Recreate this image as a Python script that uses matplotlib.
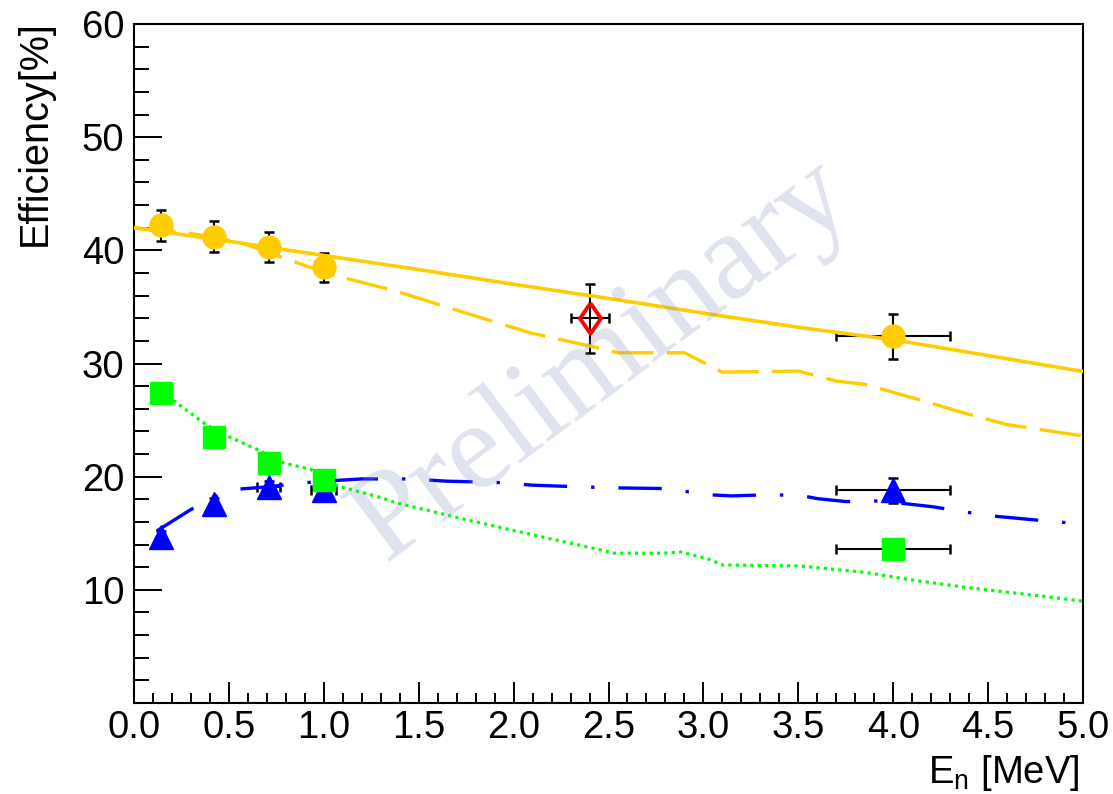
import matplotlib
matplotlib.use("Agg")
import matplotlib.pyplot as plt
from matplotlib.ticker import MultipleLocator, FixedLocator

plt.rcParams['font.family'] = ['Liberation Sans', 'DejaVu Sans']
plt.rcParams['mathtext.fontset'] = 'custom'
plt.rcParams['mathtext.rm'] = 'Liberation Sans'
plt.rcParams['mathtext.it'] = 'Liberation Sans'

# ---------------- data ----------------
# measured points (E in MeV, efficiency in %)
circ_x = [0.14, 0.42, 0.71, 1.0, 4.0]
circ_y = [42.2, 41.2, 40.3, 38.5, 32.4]
circ_yerr = [1.4, 1.35, 1.3, 1.3, 2.0]
circ_xerr = [0.0, 0.0, 0.0, 0.0, 0.3]

sq_x = [0.14, 0.42, 0.71, 1.0, 4.0]
sq_y = [27.4, 23.5, 21.2, 19.7, 13.6]
sq_yerr = [0.5, 0.5, 0.5, 0.5, 0.6]
sq_xerr = [0.0, 0.0, 0.0, 0.0, 0.3]

tri_x = [0.14, 0.42, 0.71, 1.0, 4.0]
tri_y = [14.7, 17.6, 19.1, 18.8, 18.8]
tri_yerr = [0.5, 0.5, 0.5, 0.5, 1.1]
tri_xerr = [0.0, 0.0, 0.06, 0.066, 0.3]

dia_x = [2.4]
dia_y = [34.0]
dia_yerr = [3.05]
dia_xerr = [0.1]

# simulated curves
sol_x = [0.0, 0.5, 1.0, 1.5, 2.0, 2.5, 3.0, 3.5, 4.0, 4.5, 5.0]
sol_y = [42.0, 40.8, 39.55, 38.3, 37.0, 35.75, 34.45, 33.2, 32.1, 30.7, 29.3]

dash_x = [0.0, 0.3, 0.56, 0.86, 1.03, 1.38, 1.74, 2.09, 2.44, 2.55, 2.9,
          3.1, 3.5, 3.7, 3.85, 4.1, 4.4, 4.6, 5.0]
dash_y = [42.0, 41.5, 40.7, 38.9, 37.9, 36.4, 34.5, 32.7, 31.4, 30.95, 30.95,
          29.24, 29.33, 28.45, 28.16, 26.98, 25.5, 24.6, 23.6]

dd_x = [0.12, 0.30, 0.5, 0.72, 0.85, 1.0, 1.2, 1.45, 1.65, 1.9, 2.1, 2.35,
        2.57, 2.8, 3.03, 3.15, 3.3, 3.5, 3.6, 3.75, 3.95, 4.07, 4.2, 4.4,
        4.52, 4.65, 4.86, 5.0]
dd_y = [15.2, 17.1, 18.83, 19.12, 19.39, 19.6, 19.8, 19.8, 19.6, 19.5, 19.25,
        19.1, 19.0, 18.95, 18.4, 18.3, 18.38, 18.38, 18.06, 17.8, 17.86, 17.6,
        17.36, 16.83, 16.53, 16.33, 16.0, 15.85]

dot_x = [0.14, 0.21, 0.38, 0.49, 0.65, 0.79, 0.93, 1.07, 1.3, 1.38, 1.74,
         2.09, 2.44, 2.53, 2.79, 2.88, 3.03, 3.1, 3.5, 3.86, 4.07, 4.39, 4.74, 5.0]
dot_y = [27.4, 26.7, 24.6, 23.6, 22.4, 21.2, 20.65, 19.2, 18.15, 17.7, 16.24,
         14.9, 13.6, 13.24, 13.24, 13.35, 12.7, 12.2, 12.12, 11.53, 10.94, 10.2, 9.53, 9.0]

xticks = [0.0, 0.5, 1.0, 1.5, 2.0, 2.5, 3.0, 3.5, 4.0, 4.5, 5.0]
yticks = [10, 20, 30, 40, 50, 60]

YEL = '#FFCC00'
GRN = '#00FF00'
BLU = '#0000FF'
RED = '#FF0000'

# ---------------- figure ----------------
W, H = 1113, 794
fig = plt.figure(figsize=(W / 100, H / 100), dpi=100)
ax = fig.add_axes([134 / W, 91 / H, (1083 - 134) / W, (703 - 24) / H])
ax.set_xlim(0, 5)
ax.set_ylim(0, 60)

# error bars
eb = dict(fmt='none', ecolor='black', elinewidth=1.5, capsize=3.4, capthick=1.8, zorder=2)
ax.errorbar(circ_x, circ_y, yerr=circ_yerr, xerr=circ_xerr, **eb)
ax.errorbar(sq_x, sq_y, yerr=sq_yerr, xerr=sq_xerr, **eb)
ax.errorbar(tri_x, tri_y, yerr=tri_yerr, xerr=tri_xerr, **eb)
ax.errorbar(dia_x, dia_y, yerr=dia_yerr, xerr=dia_xerr, **eb)

# markers
ax.plot(tri_x, tri_y, linestyle='none', marker='^', markersize=17, color=BLU, zorder=3)
ax.plot(sq_x, sq_y, linestyle='none', marker='s', markersize=16.5, color=GRN, zorder=3)
ax.plot(circ_x, circ_y, linestyle='none', marker='o', markersize=16.5, color=YEL, zorder=3)
diamond = [(0, 1), (0.69, 0), (0, -1), (-0.69, 0), (0, 1)]
ax.plot(dia_x, dia_y, linestyle='none', marker=diamond, markersize=22, markerfacecolor='none',
        markeredgecolor=RED, markeredgewidth=2.8, zorder=3)

# curves
ax.plot(sol_x, sol_y, color=YEL, lw=2.6, zorder=4)
ax.plot(dash_x, dash_y, color=YEL, lw=2.4, linestyle=(0, (12.5, 4.0)), zorder=4)
ax.plot(dd_x, dd_y, color=BLU, lw=2.4, linestyle=(0, (13, 7.2, 1, 7.2)), zorder=4)
ax.plot(dot_x, dot_y, color=GRN, lw=2.3, linestyle=(0, (1, 1.3)), zorder=4)

# watermark
ax.text(2.47, 30.2, 'Preliminary', family=['Liberation Serif', 'DejaVu Serif'], fontsize=90,
        rotation=37, rotation_mode='anchor', ha='center', va='center',
        color=(0.55, 0.6, 0.75), alpha=0.28, zorder=5)

# axes styling
for s in ax.spines.values():
    s.set_linewidth(1.5)
ax.xaxis.set_major_locator(FixedLocator(xticks))
ax.xaxis.set_minor_locator(MultipleLocator(0.1))
ax.yaxis.set_major_locator(FixedLocator([0] + yticks))
ax.yaxis.set_minor_locator(MultipleLocator(2))
ax.set_xticklabels(['%.1f' % v for v in xticks])
ax.set_yticklabels([''] + ['%d' % v for v in yticks])
ax.tick_params(axis='both', which='both', direction='in', top=False, right=False,
               width=1.4, labelsize=27.5)
ax.tick_params(axis='y', which='major', length=20, pad=7)
ax.tick_params(axis='y', which='minor', length=10.5)
ax.tick_params(axis='x', which='major', length=15, pad=5)
ax.tick_params(axis='x', which='minor', length=7)

fig.text(35 / W, 1 - 20 / H, 'Efficiency[%]', rotation=90, ha='center', va='top', fontsize=28.5)
fig.text(1080 / W, (H - 783) / H, r'E$_{\mathrm{n}}$ [MeV]', ha='right', va='baseline', fontsize=27.5)

fig.savefig('out.png', dpi=100)
